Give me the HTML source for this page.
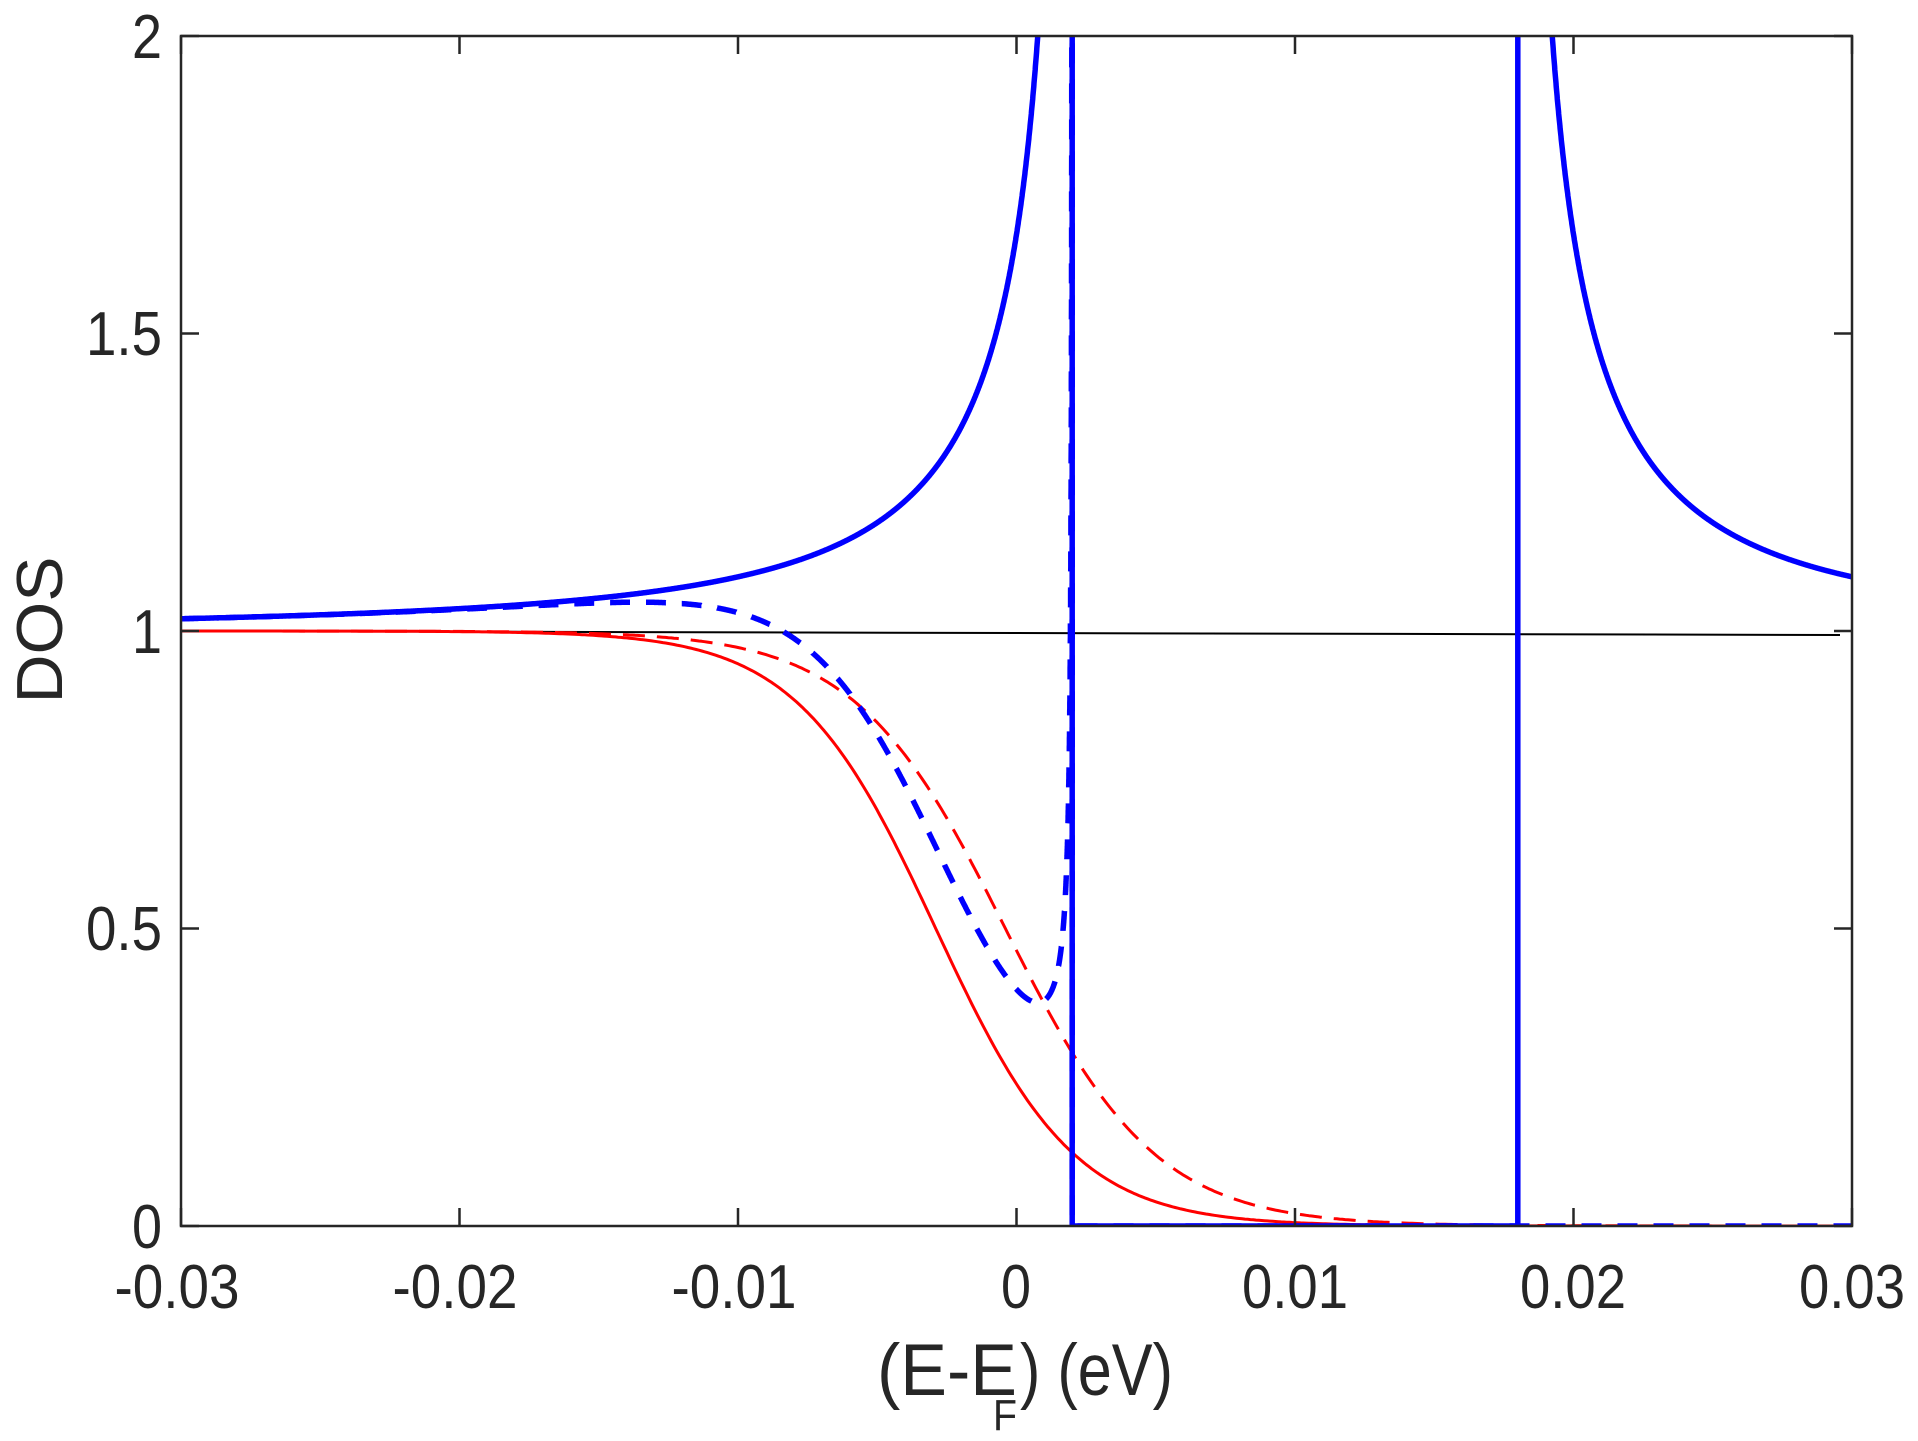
<!DOCTYPE html>
<html><head><meta charset="utf-8"><style>html,body{margin:0;padding:0;background:#fff}svg{display:block}</style></head>
<body>
<svg id="s" width="1918" height="1441" viewBox="0 0 1918 1441" xmlns="http://www.w3.org/2000/svg">
<defs><clipPath id="c"><rect x="181" y="36" width="1671" height="1190"/></clipPath></defs>
<rect width="1918" height="1441" fill="#fff"/>
<g id="curves" clip-path="url(#c)"></g>
<g stroke="#262626" stroke-width="2.5" fill="none">
<rect x="181" y="36" width="1671" height="1190"/>
<path id="ticks" d=""/>
</g>
<g font-family="'Liberation Sans', sans-serif" font-size="62" fill="#262626">
<text x="162" y="58" text-anchor="end" textLength="30" lengthAdjust="spacingAndGlyphs">2</text>
<text x="162" y="355" text-anchor="end" textLength="76" lengthAdjust="spacingAndGlyphs">1.5</text>
<text x="162" y="653" text-anchor="end" textLength="30" lengthAdjust="spacingAndGlyphs">1</text>
<text x="162" y="950" text-anchor="end" textLength="76" lengthAdjust="spacingAndGlyphs">0.5</text>
<text x="162" y="1248" text-anchor="end" textLength="30" lengthAdjust="spacingAndGlyphs">0</text>
<text x="177" y="1308" text-anchor="middle" textLength="125" lengthAdjust="spacingAndGlyphs">-0.03</text>
<text x="455" y="1308" text-anchor="middle" textLength="125" lengthAdjust="spacingAndGlyphs">-0.02</text>
<text x="734" y="1308" text-anchor="middle" textLength="125" lengthAdjust="spacingAndGlyphs">-0.01</text>
<text x="1016" y="1308" text-anchor="middle" textLength="30" lengthAdjust="spacingAndGlyphs">0</text>
<text x="1295" y="1308" text-anchor="middle" textLength="106" lengthAdjust="spacingAndGlyphs">0.01</text>
<text x="1573" y="1308" text-anchor="middle" textLength="106" lengthAdjust="spacingAndGlyphs">0.02</text>
<text x="1852" y="1308" text-anchor="middle" textLength="106" lengthAdjust="spacingAndGlyphs">0.03</text>
<text x="877" y="1395" font-size="73" textLength="140" lengthAdjust="spacingAndGlyphs">(E-E</text>
<text x="993" y="1430" font-size="44" textLength="24" lengthAdjust="spacingAndGlyphs">F</text>
<text x="1020" y="1395" font-size="73" textLength="153" lengthAdjust="spacingAndGlyphs">) (eV)</text>
<text transform="translate(62,630) rotate(-90)" text-anchor="middle" font-size="65" textLength="147" lengthAdjust="spacingAndGlyphs">DOS</text>
</g>
<script>
(function(){
var X=function(e){return 181+(e+0.03)*27850;};
var Y=function(v){return 1226-v*595;};
var D=0.008;
function bcs(e){var d=Math.abs(e-0.01);if(d<=D)return 0;return d/Math.sqrt(d*d-D*D);}
function f(e,mu,kt){return 1/(1+Math.exp((e-mu)/kt));}
var ns="http://www.w3.org/2000/svg",g=document.getElementById('curves');
function add(d,col,w,dash){var p=document.createElementNS(ns,'path');p.setAttribute('d',d);p.setAttribute('stroke',col);p.setAttribute('stroke-width',w);p.setAttribute('fill','none');p.setAttribute('stroke-linejoin','round');if(dash)p.setAttribute('stroke-dasharray',dash);g.appendChild(p);}
var i,e,d;
var KT=0.0025;
add('M181,631 L1840,635','#000',2,null);
d='';for(i=0;i<=600;i++){e=-0.03+i*0.0001;d+=(i?'L':'M')+X(e).toFixed(1)+','+Y(f(e,-0.0029,KT)).toFixed(1);}add(d,'#ff0000',3,null);
d='';for(i=0;i<=600;i++){e=-0.03+i*0.0001;d+=(i?'L':'M')+X(e).toFixed(1)+','+Y(f(e,-0.0004,0.0027)).toFixed(1);}add(d,'#ff0000',3,'22 12');
d='';var first=true;
for(i=0;i<=3200;i++){e=-0.03+i*0.00001;if(e>=0.00199)break;var v=bcs(e);if(v>2.3){d+='L'+X(e).toFixed(1)+','+Y(2.3).toFixed(1);break;}d+=(first?'M':'L')+X(e).toFixed(1)+','+Y(v).toFixed(1);first=false;}
d+='M'+X(0.002)+','+Y(2.3)+'L'+X(0.002)+','+Y(0)+'L'+X(0.018)+','+Y(0)+'L'+X(0.018)+','+Y(2.3);
first=true;for(i=0;i<=1200;i++){e=0.03-i*0.00001;var v2=bcs(e);if(v2>2.3||e<=0.01801)break;d+=(first?'M':'L')+X(e).toFixed(1)+','+Y(v2).toFixed(1);first=false;}
add(d,'#0000ff',5.5,null);
d='';first=true;
for(i=0;i<=32000;i++){e=-0.03+i*0.000001;if(e>=0.002)break;var v3=bcs(e)*f(e,-0.0029,KT);if(i%10!==0&&e<0.0015)continue;if(v3>2.3){d+='L'+X(e).toFixed(1)+','+Y(2.3).toFixed(1);break;}d+=(first?'M':'L')+X(e).toFixed(1)+','+Y(v3).toFixed(1);first=false;}
d+='L'+X(0.002).toFixed(1)+','+Y(2.3)+'L'+X(0.002).toFixed(1)+','+Y(0)+'L'+X(0.03)+','+Y(0);
add(d,'#0000ff',5.5,'20 16');
var t='';[-0.03,-0.02,-0.01,0,0.01,0.02,0.03].forEach(function(x){var px=X(x);t+='M'+px+',1226v-18M'+px+',36v18';});
[0,0.5,1,1.5,2].forEach(function(v){var py=Y(v);t+='M181,'+py+'h18M1852,'+py+'h-18';});
document.getElementById('ticks').setAttribute('d',t);
})();
</script>
</svg>
</body></html>
